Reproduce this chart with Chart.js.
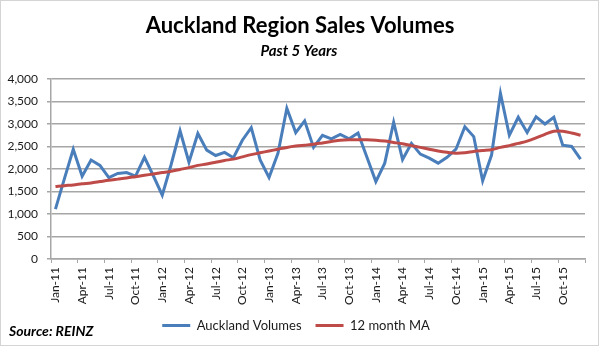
<!DOCTYPE html>
<html>
<head>
<meta charset="utf-8">
<script src="https://cdn.jsdelivr.net/npm/chart.js@4"></script>
<style>
  html, body { margin: 0; padding: 0; background: #fff; }
  #wrap { width: 600px; height: 347px; position: relative; }
</style>
</head>
<body>
<div id="wrap"><canvas id="salesChart"></canvas></div>
<script>
// ---- data ----
const MONTHS = [
  'Jan-11','Feb-11','Mar-11','Apr-11','May-11','Jun-11','Jul-11','Aug-11','Sep-11','Oct-11','Nov-11','Dec-11',
  'Jan-12','Feb-12','Mar-12','Apr-12','May-12','Jun-12','Jul-12','Aug-12','Sep-12','Oct-12','Nov-12','Dec-12',
  'Jan-13','Feb-13','Mar-13','Apr-13','May-13','Jun-13','Jul-13','Aug-13','Sep-13','Oct-13','Nov-13','Dec-13',
  'Jan-14','Feb-14','Mar-14','Apr-14','May-14','Jun-14','Jul-14','Aug-14','Sep-14','Oct-14','Nov-14','Dec-14',
  'Jan-15','Feb-15','Mar-15','Apr-15','May-15','Jun-15','Jul-15','Aug-15','Sep-15','Oct-15','Nov-15','Dec-15',
];

const AUCKLAND_VOLUMES = [
  1110, 1780, 2440, 1840, 2200, 2080, 1810, 1900, 1920, 1840, 2260, 1850,
  1420, 2100, 2850, 2150, 2790, 2420, 2300, 2370, 2250, 2640, 2920, 2200,
  1810, 2350, 3350, 2810, 3070, 2480, 2750, 2670, 2770, 2670, 2800, 2260,
  1720, 2130, 3040, 2210, 2570, 2330, 2240, 2130, 2260, 2440, 2940, 2720,
  1740, 2310, 3680, 2750, 3150, 2810, 3160, 3000, 3150, 2530, 2500, 2220,
];

const MA_12 = [
  1610, 1630, 1645, 1670, 1690, 1720, 1750, 1775, 1800, 1830, 1860, 1890,
  1920, 1950, 1990, 2030, 2080, 2110, 2150, 2190, 2220, 2270, 2320, 2360,
  2400, 2440, 2480, 2510, 2530, 2550, 2580, 2610, 2640, 2650, 2650, 2650,
  2640, 2620, 2590, 2560, 2520, 2480, 2440, 2400, 2370, 2350, 2360, 2390,
  2410, 2430, 2480, 2520, 2570, 2620, 2690, 2770, 2840, 2840, 2800, 2750,
];

const Y_MIN = 0, Y_MAX = 4000, Y_STEP = 500;
const LABEL_EVERY = 3;

const TITLE = 'Auckland Region Sales Volumes';
const SUBTITLE = 'Past 5 Years';
const SOURCE = 'Source: REINZ';

// ---- styles ----
const FONT = 'Lato';
const BLUE = '#4a7ebb';
const RED = '#be4b48';
const GRID = '#a6a6a6';
const TEXT = '#1a1a1a';

// titles, source note and outer frame
const decorations = {
  id: 'decorations',
  afterDraw(chart) {
    const ctx = chart.ctx;
    ctx.save();
    ctx.fillStyle = '#000';
    ctx.textAlign = 'center';
    ctx.textBaseline = 'alphabetic';
    ctx.font = `bold 22px ${FONT}`;
    ctx.fillText(TITLE, 300, 33);
    ctx.font = `italic bold 15px ${FONT}`;
    ctx.fillText(SUBTITLE, 299, 56);
    ctx.textAlign = 'left';
    ctx.textBaseline = 'middle';
    ctx.font = `italic bold 14px ${FONT}`;
    ctx.fillText(SOURCE, 9, 331);
    ctx.strokeStyle = '#d4d4d4';
    ctx.lineWidth = 1;
    ctx.strokeRect(0.5, 0.5, 598, 345);
    ctx.restore();
  },
};

new Chart(document.getElementById('salesChart'), {
  type: 'line',
  data: {
    labels: MONTHS,
    datasets: [
      {
        label: 'Auckland Volumes', data: AUCKLAND_VOLUMES,
        borderColor: BLUE, backgroundColor: BLUE,
        borderWidth: 3, pointRadius: 0, tension: 0, order: 1,
      },
      {
        label: '12 month MA', data: MA_12,
        borderColor: RED, backgroundColor: RED,
        borderWidth: 3, pointRadius: 0, tension: 0.3, order: 0,
      },
    ],
  },
  options: {
    responsive: true,
    maintainAspectRatio: false,
    animation: false,
    layout: { padding: { top: 79, right: 15, bottom: 5, left: 7 } },
    plugins: {
      tooltip: { enabled: false },
      legend: {
        position: 'bottom',
        labels: {
          color: TEXT, font: { family: FONT, size: 13 },
          usePointStyle: true, pointStyle: 'line', pointStyleWidth: 28,
          padding: 14,
          sort: (a, b) => a.datasetIndex - b.datasetIndex,
        },
      },
    },
    scales: {
      x: {
        offset: true,
        grid: {
          offset: true, drawOnChartArea: false, drawTicks: true, tickLength: 4,
          color: c => (c.index === undefined || c.index % LABEL_EVERY === 0) ? GRID : 'rgba(0,0,0,0)',
        },
        border: { color: GRID, width: 1.5 },
        ticks: {
          autoSkip: false, maxRotation: 90, minRotation: 90, padding: 4,
          color: TEXT, font: { family: FONT, size: 12 },
          callback: (v, i) => i % LABEL_EVERY === 0 ? MONTHS[i] : '',
        },
        afterFit: s => { s.height = 46; },
      },
      y: {
        min: Y_MIN, max: Y_MAX,
        grid: { color: GRID, lineWidth: 1.5, tickLength: 4 },
        border: { color: GRID, width: 1.5 },
        ticks: {
          stepSize: Y_STEP, padding: 9,
          color: TEXT, font: { family: FONT, size: 12 },
          callback: v => v.toLocaleString('en-US'),
        },
        afterFit: s => { s.width = 44; },
      },
    },
  },
  plugins: [decorations],
});
</script>
</body>
</html>
